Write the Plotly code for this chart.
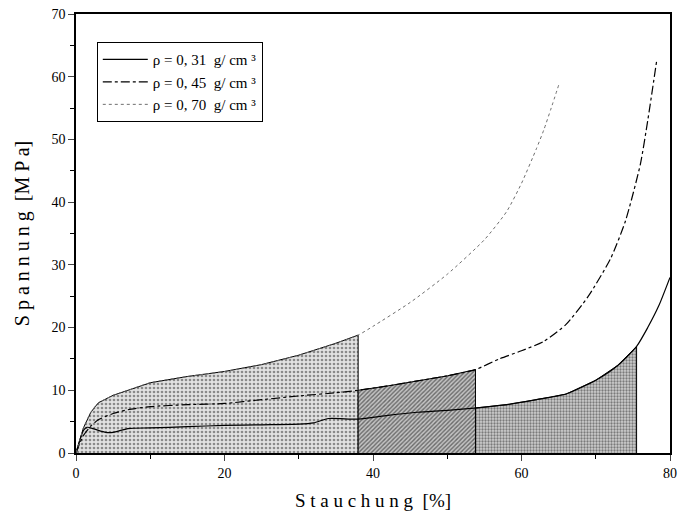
import numpy as np
import plotly.graph_objects as go

# ---- data ----
x31 = [0, 0.5, 1, 1.5, 2.5, 4, 5, 7, 10, 15, 20, 25, 30, 32, 34, 38, 42, 46, 50, 54, 58, 62, 66, 70, 73, 75.5, 77, 78.5, 80]
y31 = [0, 2, 3.6, 4.1, 3.8, 3.3, 3.3, 3.9, 4.0, 4.2, 4.4, 4.5, 4.6, 4.8, 5.5, 5.4, 6.0, 6.5, 6.8, 7.2, 7.7, 8.5, 9.4, 11.6, 14, 17, 20, 23.5, 28]

x45 = [0, 0.5, 1, 2, 3, 5, 7, 10, 15, 20, 25, 30, 35, 38, 42, 46, 50, 53.8, 57, 60, 63, 66, 69, 72, 74, 76, 77, 78.2]
y45 = [0, 1.5, 2.8, 4.3, 5.3, 6.3, 6.9, 7.4, 7.7, 7.9, 8.5, 9.1, 9.6, 10.0, 10.7, 11.5, 12.3, 13.3, 15.0, 16.3, 17.8, 20.5, 25, 31, 37, 46, 53, 62.5]

x70 = [0, 0.5, 1, 2, 3, 4, 5, 7, 10, 15, 20, 25, 30, 35, 38, 40, 45, 50, 55, 58, 60, 62, 63, 64, 65.1]
y70 = [0, 2, 4, 6.5, 8, 8.6, 9.2, 10, 11.2, 12.2, 13, 14.1, 15.6, 17.5, 18.8, 20.2, 24.0, 28.5, 34.0, 38.5, 43, 48.5, 51.5, 55, 59]

labels = ["ρ = 0, 31  g/ cm ³", "ρ = 0, 45  g/ cm ³", "ρ = 0, 70  g/ cm ³"]

# shaded regions: (curve index, start, end)
region_bounds = [(2, 0, 38), (1, 38, 53.8), (0, 53.8, 75.5)]

xticks = [0, 20, 40, 60, 80]
yticks = [0, 10, 20, 30, 40, 50, 60, 70]

curves = [(x31, y31), (x45, y45), (x70, y70)]

fig = go.Figure()

patterns = [
    dict(shape=".", size=4, solidity=0.35, fgcolor="#8a8a8a", bgcolor="#e2e2e2", fillmode="replace"),
    dict(shape="/", size=3, solidity=0.45, fgcolor="#6a6a6a", bgcolor="#c4c4c4", fillmode="replace"),
    dict(shape=".", size=3, solidity=0.45, fgcolor="#7a7a7a", bgcolor="#cfcfcf", fillmode="replace"),
]

for (ci, a, b), pat in zip(region_bounds, patterns):
    cx, cy = np.array(curves[ci][0], float), np.array(curves[ci][1], float)
    ya, yb = np.interp(a, cx, cy), np.interp(b, cx, cy)
    m = (cx > a) & (cx < b)
    px = [a, a] + list(cx[m]) + [b, b]
    py = [0, ya] + list(cy[m]) + [yb, 0]
    fig.add_trace(go.Scatter(x=px, y=py, mode="lines", fill="toself",
                             fillpattern=pat, line=dict(color="black", width=1),
                             showlegend=False, hoverinfo="skip"))

styles = [
    dict(color="black", width=1.2, dash="solid"),
    dict(color="black", width=1.2, dash="dashdot"),
    dict(color="#6e6e6e", width=1, dash="dot"),
]
for (cx, cy), lab, st in zip(curves, labels, styles):
    fig.add_trace(go.Scatter(x=cx, y=cy, mode="lines", name=lab, line=dict(shape="spline", smoothing=0.6, **st)))

font_fam = "Liberation Serif"
fig.update_layout(
    width=684, height=521,
    margin=dict(l=76, r=7, t=14, b=68),
    paper_bgcolor="white", plot_bgcolor="white",
    font=dict(family=font_fam, color="black", size=14),
    legend=dict(x=0.035, y=0.936, xanchor="left", yanchor="top",
                bordercolor="black", borderwidth=1, bgcolor="white",
                font=dict(family=font_fam, size=15), tracegroupgap=0, itemwidth=45),
    xaxis=dict(range=[0, 80], tickvals=xticks, ticks="outside", ticklen=6, tickwidth=1.2,
               showline=True, linecolor="black", linewidth=1.5, mirror=True, showgrid=False, zeroline=False,
               minor=dict(tickvals=[10, 30, 50, 70], ticks="outside", ticklen=4, tickcolor="black"),
               title=dict(text="S t a u c h u n g  [%]", font=dict(size=19), standoff=14),
               tickfont=dict(size=14)),
    yaxis=dict(range=[0, 70], tickvals=yticks, ticks="outside", ticklen=6, tickwidth=1.2,
               showline=True, linecolor="black", linewidth=1.5, mirror=True, showgrid=False, zeroline=False,
               minor=dict(tickvals=[5, 15, 25, 35, 45, 55, 65], ticks="outside", ticklen=4, tickcolor="black"),
               title=dict(text="S p a n n u n g  [M P a]", font=dict(size=20), standoff=16),
               tickfont=dict(size=14)),
)

fig.write_html("out.html")
